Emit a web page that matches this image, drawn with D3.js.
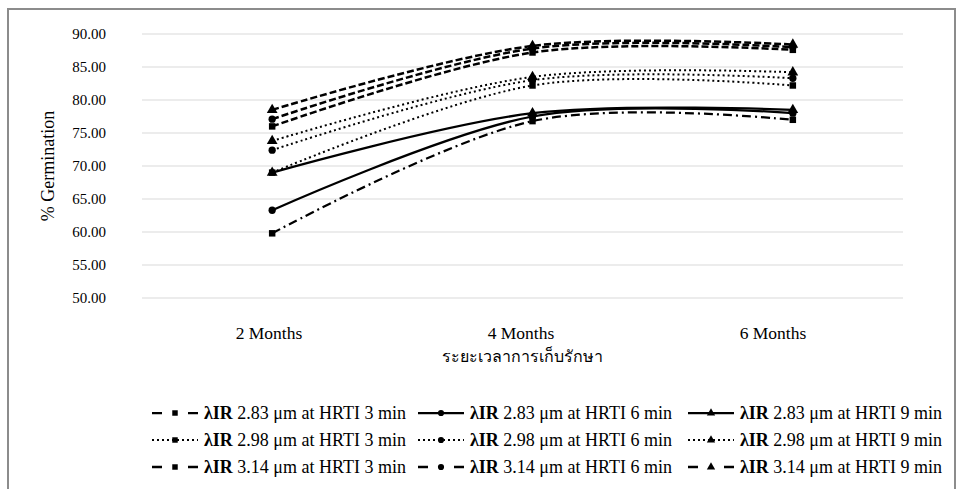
<!DOCTYPE html>
<html>
<head>
<meta charset="utf-8">
<script src="https://cdn.jsdelivr.net/npm/d3@7"></script>
<style>
  body { margin: 0; background: #fff; }
  text { font-family: "Liberation Serif", "Times New Roman", serif; fill: #000; }
</style>
</head>
<body>
<svg id="chart" width="963" height="489"></svg>
<script>
// categories on the x axis
var categories = ["2 Months", "4 Months", "6 Months"];
var yTicks = [50, 55, 60, 65, 70, 75, 80, 85, 90];

// % germination, one array per treatment
var ir283_3 = [59.8, 76.8, 77.0];
var ir283_6 = [63.3, 77.5, 78.0];
var ir283_9 = [69.0, 78.0, 78.5];
var ir298_3 = [69.0, 82.2, 82.2];
var ir298_6 = [72.4, 83.0, 83.3];
var ir298_9 = [73.8, 83.5, 84.2];
var ir314_3 = [76.0, 87.2, 87.6];
var ir314_6 = [77.1, 87.8, 88.0];
var ir314_9 = [78.5, 88.2, 88.4];

var labels = [
  "2.83 \u03bcm at HRTI 3 min", "2.83 \u03bcm at HRTI 6 min", "2.83 \u03bcm at HRTI 9 min",
  "2.98 \u03bcm at HRTI 3 min", "2.98 \u03bcm at HRTI 6 min", "2.98 \u03bcm at HRTI 9 min",
  "3.14 \u03bcm at HRTI 3 min", "3.14 \u03bcm at HRTI 6 min", "3.14 \u03bcm at HRTI 9 min"
];
var values = [ir283_3, ir283_6, ir283_9, ir298_3, ir298_6, ir298_9, ir314_3, ir314_6, ir314_9];

// line style + marker for each series
var dashes = ["9,4,2,4", null, null, "2,3", "2,3", "2,3", "7,3", "7,3", "7,3"];
var legendDash = ["10,26", null, null, "2,3", "2,3", "2,3", "10,26", "10,26", "10,26"];
var widths = [2.25, 2.25, 2.25, 2, 2, 2, 2.5, 2.5, 2.5];
var shapes = [d3.symbolSquare, d3.symbolCircle, d3.symbolTriangle];

var series = values.map(function (v, i) {
  return { name: labels[i], values: v, dash: dashes[i], ldash: legendDash[i], width: widths[i], shape: shapes[i % 3] };
});

var svg = d3.select("#chart");

// outer frame
svg.append("rect")
  .attr("x", 8).attr("y", 9)
  .attr("width", 947).attr("height", 490)
  .attr("fill", "none")
  .attr("stroke", "#8c8c8c")
  .attr("stroke-width", 2);

// category labels sit on a band scale, the plotted points a bit wider
var xLab = d3.scaleBand()
  .domain(categories)
  .range([143, 899]);

var x = d3.scalePoint()
  .domain(categories)
  .range([142, 923])
  .padding(0.5);

var y = d3.scaleLinear()
  .domain([50, 90])
  .range([298, 34]);

// gridlines
svg.append("g")
  .selectAll("line")
  .data(yTicks)
  .enter()
  .append("line")
  .attr("x1", 142).attr("x2", 903)
  .attr("y1", function (d) { return y(d); })
  .attr("y2", function (d) { return y(d); })
  .attr("stroke", "#d9d9d9")
  .attr("stroke-width", 1);

// y tick labels
svg.append("g")
  .selectAll("text")
  .data(yTicks)
  .enter()
  .append("text")
  .attr("x", 106)
  .attr("y", function (d) { return y(d); })
  .attr("dy", "0.35em")
  .attr("text-anchor", "end")
  .style("font-size", "15px")
  .text(function (d) { return d3.format(".2f")(d); });

// x tick labels
svg.append("g")
  .selectAll("text")
  .data(categories)
  .enter()
  .append("text")
  .attr("x", function (d) { return xLab(d) + xLab.bandwidth() / 2; })
  .attr("y", 333)
  .attr("dy", "0.35em")
  .attr("text-anchor", "middle")
  .style("font-size", "17.5px")
  .text(function (d) { return d; });

// axis titles
svg.append("text")
  .attr("transform", "translate(48,166) rotate(-90)")
  .attr("dy", "0.35em")
  .attr("text-anchor", "middle")
  .style("font-size", "18px")
  .text("% Germination");

svg.append("text")
  .attr("x", 522)
  .attr("y", 356)
  .attr("dy", "0.35em")
  .attr("text-anchor", "middle")
  .style("font-size", "16px")
  .text("ระยะเวลาการเก็บรักษา");

// lines
var line = d3.line()
  .x(function (d, i) { return x(categories[i]); })
  .y(function (d) { return y(d); })
  .curve(d3.curveCardinal.tension(0));

var g = svg.append("g");

series.forEach(function (s) {
  g.append("path")
    .attr("d", line(s.values))
    .attr("fill", "none")
    .attr("stroke", "#000")
    .attr("stroke-width", s.width)
    .attr("stroke-dasharray", s.dash);
});

series.forEach(function (s) {
  g.selectAll(null)
    .data(s.values)
    .enter()
    .append("path")
    .attr("transform", function (d, i) { return "translate(" + x(categories[i]) + "," + y(d) + ")"; })
    .attr("d", d3.symbol().type(s.shape).size(s.shape === d3.symbolTriangle ? 50 : 42))
    .attr("fill", "#000");
});

// legend, 3 x 3
var colX = [152, 418, 688];
var rowY = [413, 440, 467];

series.forEach(function (s, i) {
  var lg = svg.append("g")
    .attr("transform", "translate(" + colX[i % 3] + "," + rowY[Math.floor(i / 3)] + ")");
  lg.append("line")
    .attr("x1", 0).attr("x2", 46)
    .attr("stroke", "#000")
    .attr("stroke-width", s.width)
    .attr("stroke-dasharray", s.ldash);
  lg.append("path")
    .attr("transform", "translate(23,0)")
    .attr("d", d3.symbol().type(s.shape).size(30))
    .attr("fill", "#000");
  var t = lg.append("text")
    .attr("x", 52)
    .attr("dy", "0.35em")
    .style("font-size", "18px");
  t.append("tspan").style("font-weight", "bold").text("\u03bbIR");
  t.append("tspan").text(" " + s.name);
});
</script>
</body>
</html>
